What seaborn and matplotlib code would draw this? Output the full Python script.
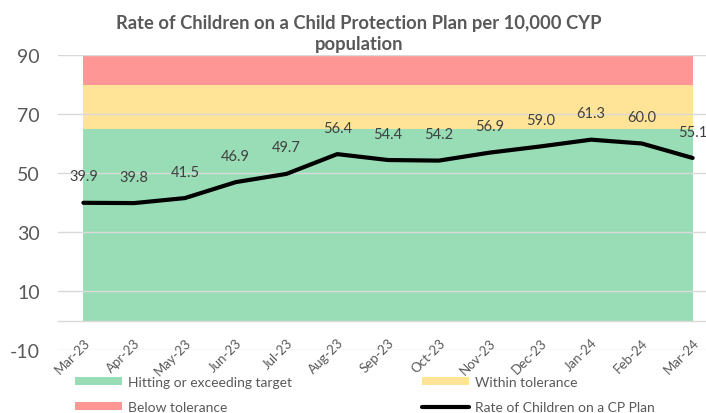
import numpy as np
import pandas as pd
import matplotlib
matplotlib.use("Agg")
import matplotlib.pyplot as plt
from matplotlib.patches import Patch
from matplotlib.lines import Line2D
import seaborn as sns

# Monthly rate of children on a CP plan per 10,000 CYP
months = ["Mar-23", "Apr-23", "May-23", "Jun-23", "Jul-23", "Aug-23", "Sep-23",
          "Oct-23", "Nov-23", "Dec-23", "Jan-24", "Feb-24", "Mar-24"]
rate = [39.9, 39.8, 41.5, 46.9, 49.7, 56.4, 54.4, 54.2, 56.9, 59.0, 61.3, 60.0, 55.1]

# Performance bands (lower, upper) and their legend labels
band_labels = ["Hitting or exceeding target", "Within tolerance", "Below tolerance"]
band_lower = [0, 65, 80]
band_upper = [65, 80, 90]
band_colors = ["#98DDB6", "#FFE497", "#FF9696"]

y_ticks = [-10, 10, 30, 50, 70, 90]
line_label = "Rate of Children on a CP Plan"
title = "Rate of Children on a Child Protection Plan per 10,000 CYP\npopulation"

sns.set_theme(style="white")
plt.rcParams["font.family"] = ["Lato", "DejaVu Sans"]

text_color = "#595959"
grid_color = "#D9D9D9"

df = pd.DataFrame({"pos": np.arange(len(months)), "month": months, "rate": rate})

fig = plt.figure(figsize=(7.06, 4.14), dpi=100)
ax = fig.add_axes([58 / 706, 63 / 414, 660 / 706, 295 / 414])

# Coloured tolerance bands spanning the first to last month
for lo, hi, col in zip(band_lower, band_upper, band_colors):
    ax.fill_between([df["pos"].iloc[0], df["pos"].iloc[-1]], lo, hi,
                    color=col, linewidth=0, zorder=1)

# Horizontal gridlines drawn over the bands
for yv in y_ticks:
    ax.axhline(yv, color=grid_color, linewidth=1.0, zorder=2)

sns.lineplot(data=df, x="pos", y="rate", color="black", linewidth=3.0,
             ax=ax, zorder=4, legend=False)

for x, v in zip(df["pos"], df["rate"]):
    ax.annotate(f"{v:.1f}", (x, v), xytext=(0, 19), textcoords="offset points",
                ha="center", va="center", fontsize=10.5, color="#404040", zorder=5)

ax.set_xlim(-0.5, len(months) - 0.5)
ax.set_ylim(-10, 90)
ax.set_yticks(y_ticks)
ax.set_yticklabels([str(t) for t in y_ticks], fontsize=14, color=text_color)
ax.tick_params(axis="y", length=0, pad=13)

# Category axis crossing at zero, tick marks between months
for s in ["top", "right", "left"]:
    ax.spines[s].set_visible(False)
ax.spines["bottom"].set_position(("data", 0))
ax.spines["bottom"].set_color(grid_color)
ax.spines["bottom"].set_linewidth(1.0)
ax.spines["bottom"].set_zorder(3)
ax.set_xticks(df["pos"])
ax.set_xticklabels(months, rotation=45, ha="right", rotation_mode="anchor",
                   fontsize=9.5, color=text_color)
ax.set_xticks(np.arange(-0.5, len(months), 1.0), minor=True)
ax.tick_params(axis="x", which="major", length=0, pad=11)
ax.tick_params(axis="x", which="minor", length=4, width=1, color=grid_color,
               direction="out")
ax.set_xlabel("")
ax.set_ylabel("")

fig.text(0.508, 1 - 34 / 414, title, ha="center", va="center", fontsize=13.2,
         fontweight="bold", color=text_color, linespacing=1.3)

handles = [
    Patch(facecolor=band_colors[0], edgecolor="none", label=band_labels[0]),
    Patch(facecolor=band_colors[2], edgecolor="none", label=band_labels[2]),
    Patch(facecolor=band_colors[1], edgecolor="none", label=band_labels[1]),
    Line2D([0], [0], color="black", linewidth=3.0, label=line_label),
]
fig.legend(handles=handles, ncol=2, loc="upper left",
           bbox_to_anchor=(75 / 706, 1 - 377 / 414), frameon=False,
           fontsize=10, labelcolor=text_color, handlelength=3.4, handleheight=0.55,
           handletextpad=0.45, columnspacing=9.3, labelspacing=0.95,
           borderaxespad=0, borderpad=0)

fig.savefig("out.png", dpi=100)
